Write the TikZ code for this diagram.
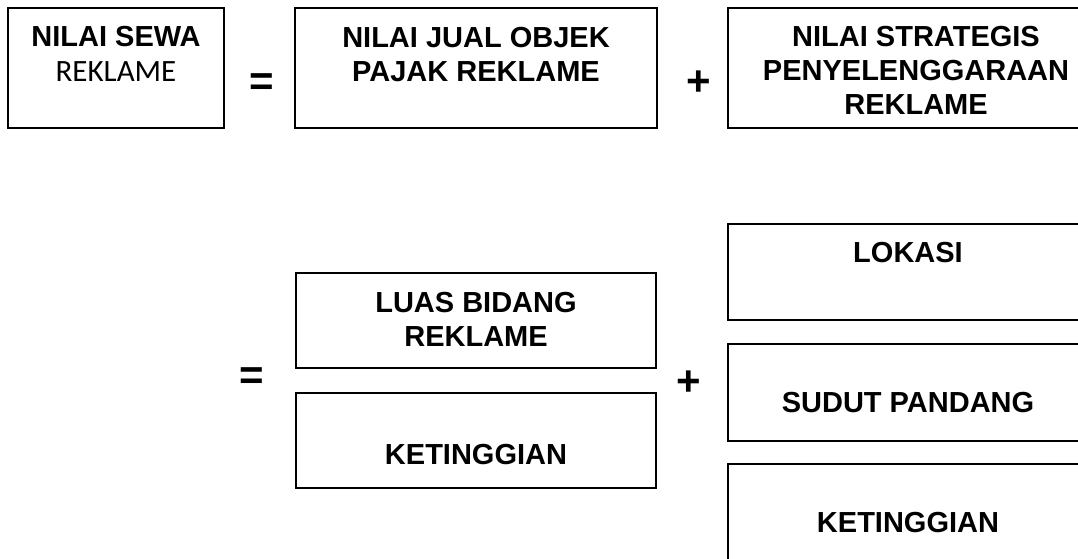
\documentclass[tikz,border=0pt]{standalone}
\usepackage{fontspec}
\setmainfont{Liberation Sans}
\newfontfamily\carlito{Carlito}
\usetikzlibrary{positioning}

\begin{document}
\begin{tikzpicture}[x=1pt,y=-1pt,
  kotak/.style={draw,line width=1.5pt,inner sep=0pt},
  teks/.style={anchor=north,align=center,inner sep=0pt,font=\bfseries\fontsize{29}{34}\selectfont},
  op/.style={inner sep=0pt,font=\bfseries\fontsize{42}{42}\selectfont}]
\useasboundingbox (0,0) rectangle (1078,558);
\begin{scope}
\clip (0,0) rectangle (1078,558);
% baris atas
\node[kotak,minimum width=216pt,minimum height=120pt] (nsr) at (116,68) {};
\node[kotak,minimum width=362pt,minimum height=120pt] (njop) at (476,68) {};
\node[kotak,minimum width=376pt,minimum height=120pt] (nsp) at (916,68) {};
\node[teks,below=19pt of nsr.north] (tnsr) {NILAI SEWA\\[1pt]{\mdseries\carlito\fontsize{31}{34}\selectfont REKLAME}};
\node[teks,below=20pt of njop.north] (tnjop) {NILAI JUAL OBJEK\\PAJAK REKLAME};
\node[teks,below=19pt of nsp.north] (tnsp) {NILAI STRATEGIS\\PENYELENGGARAAN\\REKLAME};
\node[op] (eq1) at (262,84.5) {=};
\node[op] (pl1) at (698.5,83) {+};
% baris bawah, kiri
\node[kotak,minimum width=360pt,minimum height=95pt] (luas) at (476,320.5) {};
\node[kotak,minimum width=360pt,minimum height=95pt] (ting) at (476,440.5) {};
\node[teks,below=20pt of luas.north] (tluas) {LUAS BIDANG\\REKLAME};
\node[teks,below=52pt of ting.north] (tting) {KETINGGIAN};
\node[op] (eq2) at (252,379) {=};
\node[op] (pl2) at (688.5,383) {+};
% baris bawah, kanan
\node[kotak,minimum width=360pt,minimum height=96pt] (lok) at (908,272) {};
\node[kotak,minimum width=360pt,minimum height=97pt] (sud) at (908,392.5) {};
\node[kotak,minimum width=360pt,minimum height=120pt] (ting2) at (908,524) {};
\node[teks,below=19pt of lok.north] (tlok) {LOKASI};
\node[teks,below=49pt of sud.north] (tsud) {SUDUT PANDANG};
\node[teks,below=49pt of ting2.north] (tting2) {KETINGGIAN};
\end{scope}
\end{tikzpicture}
\end{document}
